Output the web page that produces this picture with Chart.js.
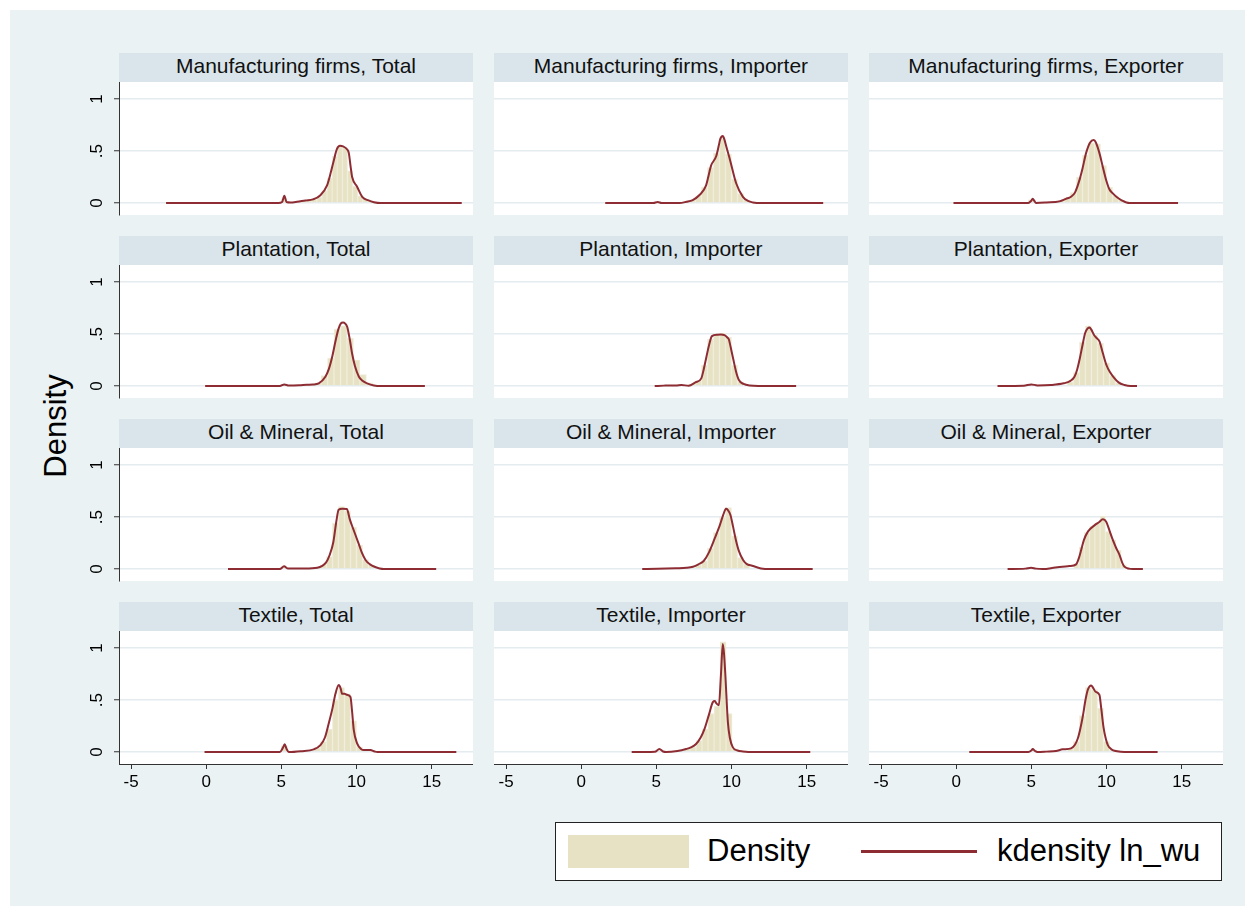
<!DOCTYPE html>
<html><head><meta charset="utf-8">
<script src="https://cdn.jsdelivr.net/npm/chart.js@4.4.1/dist/chart.umd.min.js"></script>
<style>
html,body{margin:0;padding:0;background:#fff;width:1255px;height:916px;overflow:hidden;}
#frame{position:absolute;left:10px;top:10px;width:1235px;height:896px;background:#eaf2f3;}
.strip{position:absolute;height:29px;width:354px;background:#d9e5eb;font:21px "Liberation Sans",Arial,sans-serif;color:#111;text-align:center;line-height:26px;}
canvas{position:absolute;}
#ytitle{position:absolute;left:56px;top:426px;transform:translate(-50%,-50%) rotate(-90deg);font:31px "Liberation Sans",Arial,sans-serif;white-space:nowrap;color:#000;}
#legend{position:absolute;left:555px;top:822px;width:667px;height:59px;background:#fff;border:1px solid #222;box-sizing:border-box;font:31px "Liberation Sans",Arial,sans-serif;color:#000;}
#legend .sw{position:absolute;left:12px;top:12px;width:121px;height:33px;background:#e6e2c3;}
#legend .t1{position:absolute;left:151px;top:10px;line-height:36px;}
#legend .ln{position:absolute;left:305px;top:27px;width:116px;height:3px;background:#8e2c33;}
#legend .t2{position:absolute;left:441px;top:10px;line-height:36px;}
</style>
</head><body>
<div id="frame"></div>
<div id="ytitle">Density</div>
<div id="legend"><div class="sw"></div><div class="t1">Density</div><div class="ln"></div><div class="t2">kdensity ln_wu</div></div>
<script>
const sectors = ['Manufacturing firms', 'Plantation', 'Oil & Mineral', 'Textile'];
const groups = ['Total', 'Importer', 'Exporter'];
const xTicks = [-5, 0, 5, 10, 15];
const yTicks = [0, 0.5, 1];
const yTickLabels = ['0', '.5', '1'];

// kernel density curves [ln_wu, density]
const kdeMfgTotal = [[-2.67,0],[4.8,0],[5.05,0.01],[5.2,0.07],[5.35,0.01],[5.6,0.005],[6.05,0.012],[6.6,0.025],[7.1,0.035],[7.6,0.075],[8.04,0.17],[8.3,0.3],[8.49,0.41],[8.7,0.52],[8.9,0.55],[9.1,0.545],[9.38,0.515],[9.49,0.48],[9.6,0.36],[9.71,0.25],[10.04,0.157],[10.38,0.06],[10.8,0.025],[11.16,0.008],[11.6,0],[17.0,0]];
const kdeMfgImporter = [[1.6,0],[4.8,0],[5.09,0.01],[5.35,0],[6.53,0],[7.0,0.012],[7.42,0.029],[7.87,0.077],[8.31,0.17],[8.5,0.28],[8.64,0.36],[8.98,0.45],[9.15,0.55],[9.24,0.61],[9.42,0.644],[9.55,0.6],[9.64,0.55],[9.91,0.41],[10.31,0.19],[10.76,0.06],[11.1,0.02],[11.42,0.006],[12.0,0],[16.1,0]];
const kdeMfgExporter = [[-0.18,0],[4.8,0],[4.98,0.02],[5.09,0.042],[5.2,0.02],[5.31,0],[6.0,0.005],[6.87,0.016],[7.3,0.04],[7.64,0.061],[7.9,0.1],[8.2,0.22],[8.4,0.33],[8.64,0.48],[8.9,0.58],[9.15,0.606],[9.3,0.58],[9.53,0.48],[9.75,0.35],[9.98,0.22],[10.2,0.13],[10.42,0.093],[10.7,0.055],[10.98,0.029],[11.53,0],[14.76,0]];
const kdePlantTotal = [[-0.07,0],[4.9,0],[5.2,0.016],[5.5,0.005],[6.2,0.008],[6.7,0.013],[7.1,0.015],[7.49,0.026],[7.93,0.09],[8.15,0.16],[8.38,0.28],[8.6,0.43],[8.78,0.54],[8.95,0.6],[9.11,0.61],[9.25,0.6],[9.38,0.57],[9.55,0.45],[9.71,0.31],[9.9,0.19],[10.16,0.09],[10.4,0.05],[10.71,0.026],[11.16,0.006],[11.6,0],[14.55,0]];
const kdePlantImporter = [[4.89,0],[5.5,0.004],[6.0,0.006],[6.3,0.005],[6.67,0.01],[7.15,0.003],[7.6,0.035],[7.99,0.074],[8.15,0.16],[8.33,0.28],[8.5,0.39],[8.7,0.48],[9.06,0.494],[9.3,0.495],[9.53,0.49],[9.7,0.47],[9.82,0.45],[9.95,0.37],[10.13,0.25],[10.3,0.14],[10.49,0.058],[10.8,0.02],[11.2,0.006],[12.6,0],[14.3,0]];
const kdePlantExporter = [[2.75,0],[4.5,0.003],[5.0,0.016],[5.4,0.006],[6.3,0.01],[7.15,0.026],[7.6,0.05],[7.87,0.09],[8.05,0.16],[8.23,0.27],[8.4,0.39],[8.58,0.51],[8.75,0.555],[8.87,0.564],[9.0,0.54],[9.17,0.49],[9.35,0.46],[9.53,0.43],[9.75,0.32],[10.0,0.2],[10.25,0.13],[10.48,0.083],[10.8,0.035],[11.2,0.01],[11.6,0],[12.03,0]];
const kdeOilTotal = [[1.45,0],[4.9,0],[5.18,0.026],[5.45,0.005],[6.5,0.006],[7.39,0.013],[7.98,0.064],[8.2,0.13],[8.46,0.26],[8.65,0.45],[8.81,0.57],[9.05,0.58],[9.36,0.577],[9.55,0.48],[9.77,0.39],[10.13,0.25],[10.35,0.16],[10.6,0.087],[10.9,0.045],[11.2,0.022],[11.8,0],[15.3,0]];
const kdeOilImporter = [[4.06,0],[5.06,0.003],[6.3,0.008],[7.0,0.012],[7.44,0.022],[7.8,0.045],[8.15,0.077],[8.5,0.16],[8.87,0.29],[9.22,0.42],[9.45,0.52],[9.63,0.58],[9.75,0.57],[9.93,0.52],[10.1,0.41],[10.29,0.28],[10.5,0.17],[10.77,0.087],[11.0,0.05],[11.37,0.032],[11.96,0.006],[12.6,0],[15.4,0]];
const kdeOilExporter = [[3.42,0],[4.6,0.004],[4.98,0.013],[5.3,0.004],[5.76,0],[6.6,0.015],[7.53,0.029],[7.98,0.045],[8.15,0.1],[8.31,0.18],[8.5,0.28],[8.76,0.36],[9.2,0.42],[9.5,0.45],[9.76,0.478],[9.98,0.455],[10.2,0.37],[10.42,0.28],[10.65,0.2],[10.87,0.135],[11.05,0.06],[11.2,0.022],[11.76,0],[12.42,0]];
const kdeTexTotal = [[-0.11,0],[4.9,0],[5.1,0.04],[5.22,0.074],[5.35,0.03],[5.49,0],[6.3,0.008],[7.16,0.026],[7.6,0.067],[7.9,0.14],[8.16,0.28],[8.4,0.42],[8.6,0.56],[8.82,0.644],[8.95,0.61],[9.04,0.56],[9.2,0.56],[9.38,0.55],[9.6,0.53],[9.7,0.4],[9.82,0.21],[10.04,0.083],[10.3,0.03],[10.49,0.019],[10.93,0.019],[11.2,0.006],[11.38,0],[16.64,0]];
const kdeTexImporter = [[3.36,0],[4.9,0.003],[5.2,0.029],[5.45,0.005],[5.64,0],[6.4,0.01],[6.98,0.029],[7.3,0.045],[7.64,0.077],[7.95,0.14],[8.2,0.22],[8.5,0.36],[8.76,0.48],[8.9,0.49],[8.98,0.47],[9.16,0.45],[9.3,0.75],[9.42,1.04],[9.5,0.95],[9.58,0.77],[9.76,0.285],[9.9,0.13],[10.09,0.045],[10.4,0.015],[10.76,0.006],[11.5,0],[15.24,0]];
const kdeTexExporter = [[0.87,0],[4.8,0],[5.0,0.015],[5.09,0.029],[5.25,0.01],[5.4,0],[6.0,0.004],[6.64,0.01],[7.09,0.026],[7.64,0.035],[7.9,0.07],[8.09,0.13],[8.25,0.22],[8.42,0.34],[8.6,0.5],[8.76,0.6],[8.98,0.64],[9.1,0.62],[9.27,0.58],[9.53,0.55],[9.65,0.42],[9.8,0.24],[9.95,0.13],[10.09,0.067],[10.3,0.03],[10.53,0.013],[11.5,0],[13.4,0]];

// histogram bins [bin centre, density]
const histMfgTotal = [[5.15,0.04],[6.17,0.01],[6.51,0.018],[6.85,0.026],[7.19,0.034],[7.53,0.055],[7.87,0.12],[8.21,0.24],[8.55,0.45],[8.89,0.54],[9.23,0.53],[9.57,0.31],[9.91,0.16],[10.25,0.07],[10.59,0.035],[10.93,0.015]];
const histMfgImporter = [[7.0,0.015],[7.4,0.03],[7.8,0.07],[8.2,0.15],[8.6,0.34],[9.0,0.48],[9.4,0.62],[9.8,0.47],[10.2,0.23],[10.6,0.09],[11.0,0.025]];
const histMfgExporter = [[5.0,0.03],[6.6,0.012],[7.0,0.025],[7.4,0.05],[7.8,0.1],[8.2,0.25],[8.6,0.46],[9.0,0.58],[9.4,0.57],[9.8,0.36],[10.2,0.15],[10.6,0.07],[11.0,0.025]];
const histPlantTotal = [[5.21,0.015],[7.0,0.015],[7.43,0.03],[7.86,0.1],[8.29,0.27],[8.72,0.545],[9.15,0.58],[9.58,0.46],[10.01,0.25],[10.44,0.11],[10.87,0.03]];
const histPlantImporter = [[7.4,0.02],[7.8,0.05],[8.2,0.2],[8.6,0.45],[9.0,0.5],[9.4,0.51],[9.8,0.47],[10.2,0.2],[10.6,0.04]];
const histPlantExporter = [[7.6,0.04],[8.0,0.13],[8.4,0.42],[8.8,0.58],[9.2,0.49],[9.6,0.41],[10.0,0.22],[10.4,0.1],[10.8,0.03]];
const histOilTotal = [[5.2,0.02],[7.4,0.015],[7.8,0.04],[8.2,0.12],[8.6,0.44],[9.0,0.6],[9.4,0.56],[9.8,0.4],[10.2,0.23],[10.6,0.09],[11.0,0.035]];
const histOilImporter = [[7.8,0.04],[8.2,0.08],[8.6,0.2],[9.0,0.35],[9.4,0.5],[9.8,0.59],[10.2,0.32],[10.6,0.11],[11.0,0.045]];
const histOilExporter = [[8.0,0.05],[8.35,0.21],[8.7,0.35],[9.05,0.41],[9.4,0.44],[9.75,0.51],[10.1,0.36],[10.45,0.28],[10.8,0.18],[11.15,0.04]];
const histTexTotal = [[5.2,0.06],[7.4,0.04],[7.8,0.1],[8.2,0.22],[8.6,0.5],[9.0,0.62],[9.4,0.56],[9.8,0.3],[10.2,0.05],[10.6,0.02],[11.0,0.015]];
const histTexImporter = [[7.04,0.025],[7.44,0.05],[7.84,0.11],[8.24,0.22],[8.64,0.37],[9.04,0.44],[9.44,1.06],[9.84,0.37],[10.24,0.03]];
const histTexExporter = [[7.6,0.03],[8.0,0.1],[8.4,0.35],[8.8,0.62],[9.2,0.6],[9.6,0.42],[10.0,0.1],[10.4,0.02]];

const kdes = [[kdeMfgTotal,kdeMfgImporter,kdeMfgExporter],[kdePlantTotal,kdePlantImporter,kdePlantExporter],[kdeOilTotal,kdeOilImporter,kdeOilExporter],[kdeTexTotal,kdeTexImporter,kdeTexExporter]];
const hists = [[histMfgTotal,histMfgImporter,histMfgExporter],[histPlantTotal,histPlantImporter,histPlantExporter],[histOilTotal,histOilImporter,histOilExporter],[histTexTotal,histTexImporter,histTexExporter]];

const FONT = '"Liberation Sans", Arial, sans-serif';
Chart.defaults.font.family = FONT;
const colLeft = [119, 494, 869];
const rowTop = [82, 265, 448, 631];
const PW = 354, PH = 133, ML = 45, MB = 40;

const plotBg = {id:'plotBg', beforeDraw(chart){const {ctx, chartArea:a} = chart; ctx.save(); ctx.fillStyle = '#ffffff'; ctx.fillRect(a.left, a.top, a.right - a.left, a.bottom - a.top); ctx.restore();}};
const noPad = s => { s.paddingTop = 0; s.paddingBottom = 0; s.paddingLeft = 0; s.paddingRight = 0; };

for (let r = 0; r < 4; r++) {
  for (let c = 0; c < 3; c++) {
    const strip = document.createElement('div');
    strip.className = 'strip';
    strip.style.left = colLeft[c] + 'px';
    strip.style.top = (rowTop[r] - 29) + 'px';
    strip.textContent = sectors[r] + ', ' + groups[c];
    document.body.appendChild(strip);

    const cv = document.createElement('canvas');
    cv.width = PW + ML; cv.height = PH + MB;
    cv.style.left = (colLeft[c] - ML) + 'px';
    cv.style.top = rowTop[r] + 'px';
    cv.style.width = (PW + ML) + 'px'; cv.style.height = (PH + MB) + 'px';
    document.body.appendChild(cv);

    const showY = c === 0, showX = r === 3;
    new Chart(cv.getContext('2d'), {
      type: 'bar',
      data: {
        datasets: [
          {type:'line', label:'kdensity ln_wu', data: kdes[r][c].map(([x, y]) => ({x, y})), borderColor:'#8e2c33', borderWidth:2, pointRadius:0, fill:false, cubicInterpolationMode:'monotone', order:0},
          {type:'bar', label:'Density', data: hists[r][c].map(([x, y]) => ({x, y})), backgroundColor:'#e6e2c3', borderColor:'#efecda', borderWidth:1, borderSkipped:'bottom', barPercentage:1, categoryPercentage:1, order:1}
        ]
      },
      options: {
        responsive:false, animation:false, events:[],
        layout:{padding:0},
        plugins:{legend:{display:false}, tooltip:{enabled:false}},
        scales: {
          x: {type:'linear', min:-5.8, max:17.75, offset:false,
              afterBuildTicks: s => { s.ticks = xTicks.map(v => ({value:v})); },
              afterFit: s => { s.height = MB; noPad(s); },
              grid:{display:showX, drawOnChartArea:false, drawTicks:true, tickLength:5, tickColor:'#333', offset:false},
              border:{display:showX, color:'#333', width:1},
              ticks:{display:showX, color:'#000', font:{size:17, family:FONT}, maxRotation:0, minRotation:0, padding:3, callback: v => String(v)}},
          y: {type:'linear', min:-0.115, max:1.164,
              afterBuildTicks: s => { s.ticks = yTicks.map(v => ({value:v})); },
              afterFit: s => { s.width = ML; noPad(s); },
              grid:{color:'#e4ecef', lineWidth:1.5, drawTicks:showY, tickLength:5, tickColor:'#333', tickWidth:1},
              border:{display:showY, color:'#333', width:1},
              ticks:{display:showY, color:'#000', font:{size:17, family:FONT}, minRotation:90, maxRotation:90, crossAlign:'center', padding:10,
                     callback: v => yTickLabels[yTicks.indexOf(v)]}}
        }
      },
      plugins:[plotBg]
    });
  }
}
</script>
</body></html>
